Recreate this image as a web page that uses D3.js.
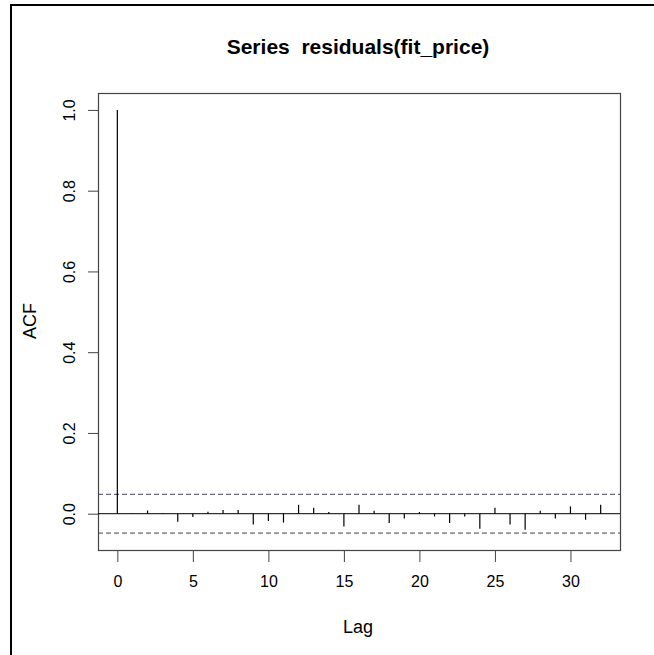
<!DOCTYPE html>
<html>
<head>
<meta charset="utf-8">
<script src="https://cdn.jsdelivr.net/npm/d3@7"></script>
<style>
  body { margin: 0; background: #fff; }
  text { font-family: "Liberation Sans", Arial, sans-serif; fill: #000; }
</style>
</head>
<body>
<div id="chart"></div>
<script>
// ACF values, lag 0..32
var lags = d3.range(0, 33);
var acfValues = [1.0, 0.001, 0.008, 0.002, -0.020, -0.008, 0.005, 0.009, 0.009, -0.027,
    -0.018, -0.022, 0.022, 0.015, 0.004, -0.032, 0.022, 0.007, -0.023, -0.012,
    0.004, -0.007, -0.023, -0.007, -0.037, 0.015, -0.027, -0.040, 0.007, -0.012,
    0.018, -0.015, 0.022];
var ciBound = 0.048;
var xTicks = [0, 5, 10, 15, 20, 25, 30];
var yTicks = [0.0, 0.2, 0.4, 0.6, 0.8, 1.0];
var titleText = "Series  residuals(fit_price)";

const width = 654, height = 655;
const plot = {left: 98, right: 620, top: 93, bottom: 550};

const svg = d3.select("#chart")
    .append("svg")
    .attr("width", width)
    .attr("height", height);

// outer frame (only top and left edges are visible in the crop)
svg.append("path")
    .attr("d", "M11,655 L11,5 L654,5")
    .attr("fill", "none")
    .attr("stroke", "#000")
    .attr("stroke-width", 2);

// R style 4% padding on both axes
const xMin = d3.min(lags), xMax = d3.max(lags);
const xPad = (xMax - xMin) * 0.04;
const x = d3.scaleLinear()
    .domain([xMin - xPad, xMax + xPad])
    .range([plot.left, plot.right]);

const yLo = -ciBound, yHi = 1.0;
const yPad = (yHi - yLo) * 0.04;
const y = d3.scaleLinear()
    .domain([yLo - yPad, yHi + yPad])
    .range([plot.bottom, plot.top]);

// plot box
svg.append("rect")
    .attr("x", plot.left + 0.5)
    .attr("y", plot.top + 0.5)
    .attr("width", plot.right - plot.left)
    .attr("height", plot.bottom - plot.top)
    .attr("fill", "none")
    .attr("stroke", "#444")
    .attr("stroke-width", 1.2);

// x axis
const xAxis = svg.append("g")
    .attr("transform", "translate(0," + (plot.bottom + 1) + ")")
    .call(d3.axisBottom(x).tickValues(xTicks).tickSize(11).tickPadding(14)
        .tickFormat(d3.format("d")));
xAxis.select(".domain").remove();
xAxis.selectAll("line").attr("stroke", "#444");
xAxis.selectAll("text").attr("font-size", "16px").attr("fill", "#000");

// y axis
const yAxis = svg.append("g")
    .attr("transform", "translate(" + (plot.left) + ",0)")
    .call(d3.axisLeft(y).tickValues(yTicks).tickSize(10).tickFormat(d3.format(".1f")));
yAxis.select(".domain").remove();
yAxis.selectAll("line").attr("stroke", "#444");
yAxis.selectAll("text")
    .attr("font-size", "16px")
    .attr("fill", "#000")
    .attr("text-anchor", "middle")
    .attr("x", 0)
    .attr("dy", 0)
    .attr("transform", "translate(-23,0) rotate(-90)");

// zero line
svg.append("line")
    .attr("x1", plot.left).attr("x2", plot.right)
    .attr("y1", y(0)).attr("y2", y(0))
    .attr("stroke", "#000")
    .attr("stroke-width", 1);

// confidence bounds
svg.selectAll(".ci")
    .data([ciBound, -ciBound])
    .join("line")
    .attr("class", "ci")
    .attr("x1", plot.left).attr("x2", plot.right)
    .attr("y1", function (d) { return y(d); })
    .attr("y2", function (d) { return y(d); })
    .attr("stroke", "#404050")
    .attr("stroke-width", 1)
    .attr("stroke-dasharray", "5,3");

// acf spikes
svg.selectAll(".spike")
    .data(lags)
    .join("line")
    .attr("class", "spike")
    .attr("x1", function (d) { return x(d); })
    .attr("x2", function (d) { return x(d); })
    .attr("y1", y(0))
    .attr("y2", function (d, i) { return y(acfValues[i]); })
    .attr("stroke", "#000")
    .attr("stroke-width", 1.2);

// title and axis labels
svg.append("text")
    .attr("x", 358).attr("y", 54)
    .attr("text-anchor", "middle")
    .attr("font-size", "21px")
    .attr("font-weight", "bold")
    .style("white-space", "pre")
    .attr("xml:space", "preserve")
    .text(titleText);

svg.append("text")
    .attr("x", 358).attr("y", 633)
    .attr("text-anchor", "middle")
    .attr("font-size", "18px")
    .text("Lag");

svg.append("text")
    .attr("transform", "translate(36," + 321 + ") rotate(-90)")
    .attr("text-anchor", "middle")
    .attr("font-size", "18px")
    .text("ACF");
</script>
</body>
</html>
